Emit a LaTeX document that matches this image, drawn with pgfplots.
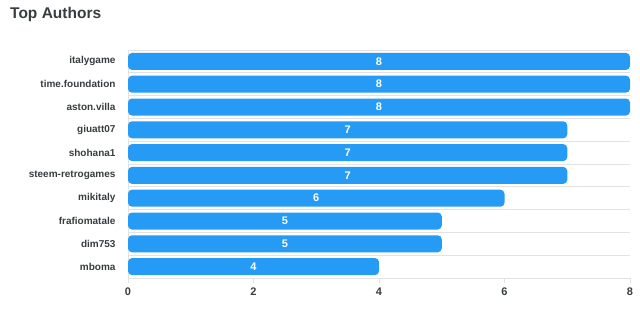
\documentclass[border=0pt]{standalone}
\usepackage{pgfplots}
\usepackage{pgfplotstable}
\pgfplotsset{compat=1.18}
\usepackage{fontspec}
\setmainfont{Liberation Sans}
\definecolor{barblue}{RGB}{38,155,245}
\definecolor{txt}{RGB}{55,61,63}
\definecolor{gridc}{RGB}{226,226,226}
\pgfplotstableread{
y v
0 4
1 5
2 5
3 6
4 7
5 7
6 7
7 8
8 8
9 8
}\data
\begin{document}
\begin{tikzpicture}
\useasboundingbox (0,0) rectangle (640bp,316bp);
\node[anchor=west, font=\fontsize{15.5bp}{18bp}\selectfont\bfseries, text=txt, inner sep=0pt] at (10bp,302bp) {Top Authors};
\begin{axis}[at={(128bp,38bp)}, anchor=south west, scale only axis,
  width=502bp, height=228bp,
  xmin=0, xmax=8, ymin=-0.5, ymax=9.5,
  axis x line*=bottom, axis y line*=left,
  axis line style={gridc, -, line width=0.8bp},
  xtick={0,2,4,6,8}, tick align=outside,
  major tick length=5bp, xtick style={gridc, line width=0.8bp},
  ytick={0,...,9},
  yticklabels={mboma,dim753,frafiomatale,mikitaly,steem-retrogames,shohana1,giuatt07,aston.villa,time.foundation,italygame},
  ytick style={draw=none},
  minor ytick={-0.5,0.5,...,9.5}, minor tick length=0pt,
  yminorgrids=true, minor grid style={gridc, line width=0.8bp},
  /pgf/number format/assume math mode=true,
  xticklabel style={font=\fontsize{11bp}{13bp}\selectfont\bfseries, text=txt, yshift=-1bp},
  yticklabel style={font=\fontsize{10bp}{12bp}\selectfont\bfseries, text=txt, xshift=-4bp},
  clip=false,
]
\addplot[xbar, bar width=17bp, bar shift=0pt, fill=barblue, draw=none, rounded corners=4bp] table[x=v, y=y] {\data};
\addplot[only marks, mark=none, nodes near coords, point meta=explicit,
  every node near coord/.style={anchor=center, text=white, font=\fontsize{11bp}{13bp}\selectfont\bfseries}]
  table[x expr=\thisrow{v}/2, y=y, meta=v] {\data};
\end{axis}
\end{tikzpicture}
\end{document}
